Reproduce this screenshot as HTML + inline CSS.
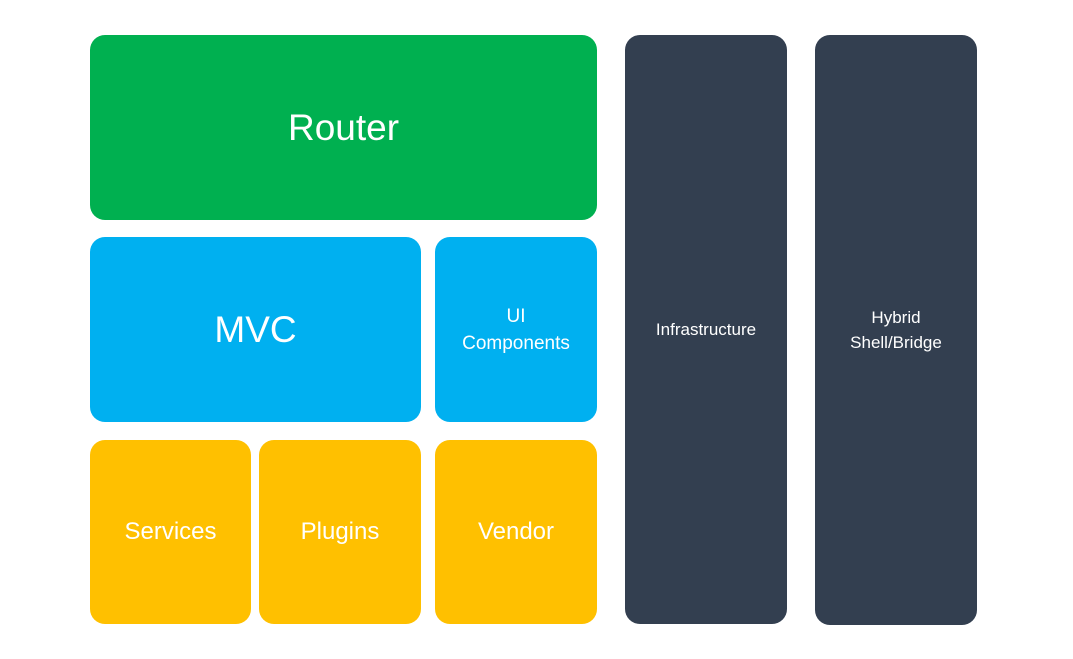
<!DOCTYPE html>
<html><head><meta charset="utf-8"><style>
body{margin:0;width:1073px;height:659px;background:#fff;position:relative;overflow:hidden;font-family:"Liberation Sans",sans-serif;}
.b{position:absolute;border-radius:15px;color:#fff;display:flex;align-items:center;justify-content:center;text-align:center;}
.g{background:#00b050}.bl{background:#00b0f0}.y{background:#ffc000}.d{background:#333f50}
</style></head><body>
<div class="b g" style="left:90px;top:35px;width:507px;height:185px;font-size:37px;">Router</div>
<div class="b bl" style="left:90px;top:237px;width:331px;height:185px;font-size:37px;">MVC</div>
<div class="b bl" style="left:435px;top:237px;width:162px;height:185px;font-size:19px;line-height:27px;">UI<br>Components</div>
<div class="b y" style="left:90px;top:440px;width:161px;height:184px;font-size:24px;">Services</div>
<div class="b y" style="left:259px;top:440px;width:162px;height:184px;font-size:24px;">Plugins</div>
<div class="b y" style="left:435px;top:440px;width:162px;height:184px;font-size:24px;">Vendor</div>
<div class="b d" style="left:625px;top:35px;width:162px;height:589px;font-size:17px;">Infrastructure</div>
<div class="b d" style="left:815px;top:35px;width:162px;height:590px;font-size:17px;line-height:25px;">Hybrid<br>Shell/Bridge</div>
</body></html>
